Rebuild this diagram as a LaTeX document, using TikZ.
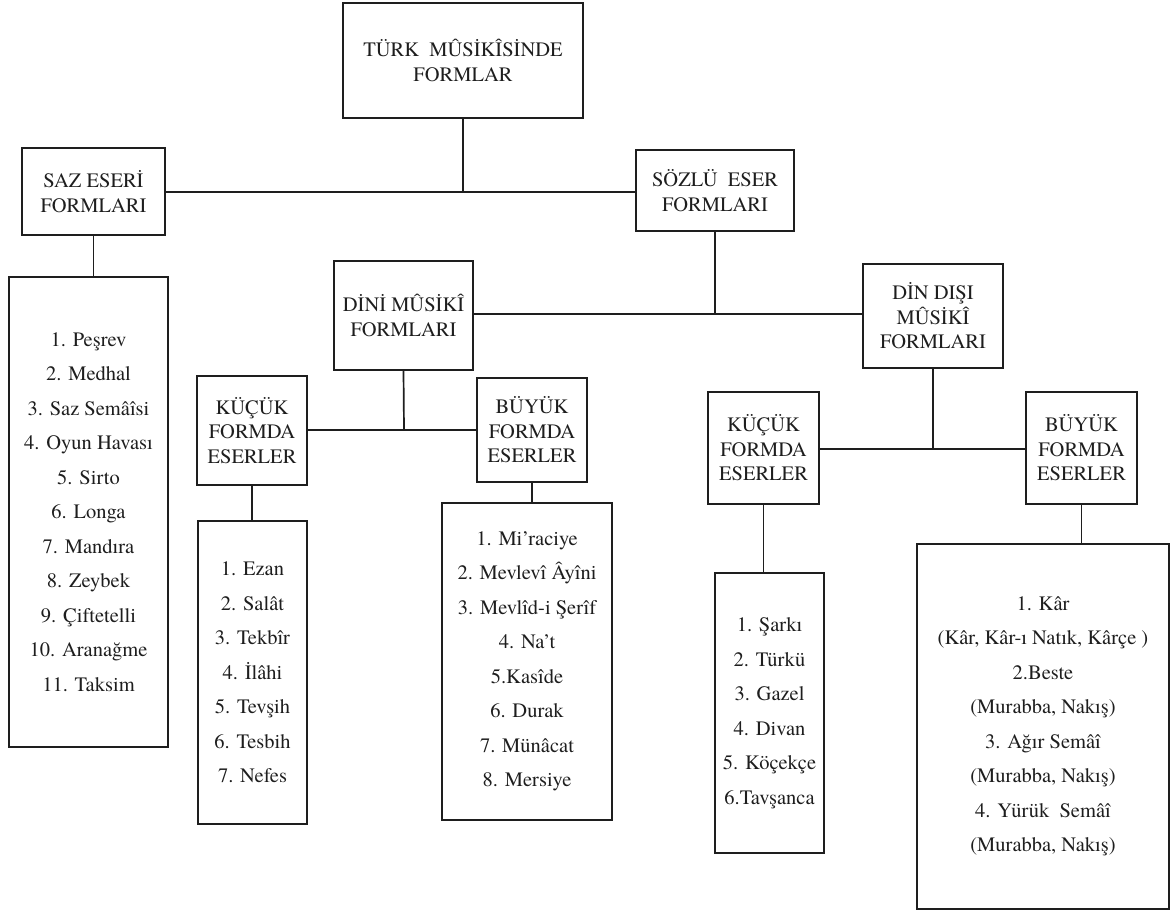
\documentclass[tikz,border=0pt]{standalone}
\usepackage{fontspec}
\setmainfont{texgyretermes}[Extension=.otf, UprightFont=*-regular, BoldFont=*-bold, ItalicFont=*-italic, BoldItalicFont=*-bolditalic]
\definecolor{ink}{HTML}{1E1E1E}
\tikzset{
  box/.style={draw=ink, line width=1.7pt, rectangle, inner sep=0pt, align=center, text=ink},
  hdr/.style={box, font=\fontsize{20.5}{25.5}\selectfont},
  lst/.style={box, font=\fontsize{20.5}{34.5}\selectfont},
  conn/.style={draw=ink, line width=1.7pt}
}
\begin{document}
\begin{tikzpicture}[x=1pt,y=-1pt]
\useasboundingbox (0,0) rectangle (1175,912);
\fill[white] (0,0) rectangle (1175,912);
% headers
\node[hdr, minimum width=240, minimum height=115] (top) at (463,60.5) {TÜRK\ \ MÛSİKÎSİNDE\\FORMLAR};
\node[hdr, minimum width=143, minimum height=87] (saz) at (93.5,191.5) {SAZ ESERİ\\FORMLARI};
\node[hdr, minimum width=158, minimum height=81] (sozlu) at (715,190.5) {SÖZLÜ\ \ ESER\\FORMLARI};
\node[hdr, minimum width=139, minimum height=109] (dini) at (403.5,315.5) {DİNİ MÛSİKÎ\\FORMLARI};
\node[hdr, font=\fontsize{20.5}{24.5}\selectfont, minimum width=140, minimum height=104] (disi) at (933,316) {DİN DIŞI\\MÛSİKÎ\\FORMLARI};
\node[hdr, font=\fontsize{20.5}{24.5}\selectfont, minimum width=110, minimum height=109] (kucuka) at (252,430.5) {KÜÇÜK\\FORMDA\\ESERLER};
\node[hdr, font=\fontsize{20.5}{24.5}\selectfont, minimum width=110, minimum height=104] (buyuka) at (532,430) {BÜYÜK\\FORMDA\\ESERLER};
\node[hdr, font=\fontsize{20.5}{24.5}\selectfont, minimum width=111, minimum height=112] (kucukb) at (763.5,448) {KÜÇÜK\\FORMDA\\ESERLER};
\node[hdr, font=\fontsize{20.5}{24.5}\selectfont, minimum width=111, minimum height=112] (buyukb) at (1081.5,448) {BÜYÜK\\FORMDA\\ESERLER};
% lists
\node[lst, minimum width=159, minimum height=470] (sazlist) at (88.5,512) {1. Peşrev\\2. Medhal\\3. Saz Semâîsi\\4. Oyun Havası\\5. Sirto\\6. Longa\\7. Mandıra\\8. Zeybek\\9. Çiftetelli\\10. Aranağme\\11. Taksim};
\node[lst, minimum width=109, minimum height=303] (lista) at (252.5,672.5) {1. Ezan\\2. Salât\\3. Tekbîr\\4. İlâhi\\5. Tevşih\\6. Tesbih\\7. Nefes};
\node[lst, minimum width=170, minimum height=317] (listb) at (527,661.5) {1. Mi'raciye\\2. Mevlevî Âyîni\\3. Mevlîd-i Şerîf\\4. Na't\\5.Kasîde\\6. Durak\\7. Münâcat\\8. Mersiye};
\node[lst, minimum width=109, minimum height=280] (listc) at (769.5,713) {1. Şarkı\\2. Türkü\\3. Gazel\\4. Divan\\5. Köçekçe\\6.Tavşanca};
\node[lst, minimum width=252, minimum height=365] (listd) at (1043,726.5) {1. Kâr\\(Kâr, Kâr-ı Natık, Kârçe )\\2.Beste\\(Murabba, Nakış)\\3. Ağır Semâî\\(Murabba, Nakış)\\4. Yürük\ \ Semâî\\(Murabba, Nakış)};
% junctions
\coordinate (j0) at (463,192);
\coordinate (j1) at (715,314);
\coordinate (j2) at (404,430);
\coordinate (j3) at (933,449);
% connectors
\draw[conn] (top.south) -- (j0);
\draw[conn] (saz.east |- j0) -- (sozlu.west |- j0);
\draw[conn] (saz.south) -- (saz.south |- sazlist.north);
\draw[conn] (sozlu.south) -- (j1);
\draw[conn] (dini.east |- j1) -- (disi.west |- j1);
\draw[conn] (dini.south) -- (j2);
\draw[conn] (kucuka.east |- j2) -- (buyuka.west |- j2);
\draw[conn] (kucuka.south) -- (kucuka.south |- lista.north);
\draw[conn] (buyuka.south) -- (buyuka.south |- listb.north);
\draw[conn] (disi.south) -- (j3);
\draw[conn] (kucukb.east |- j3) -- (buyukb.west |- j3);
\draw[conn] (kucukb.south) -- (kucukb.south |- listc.north);
\draw[conn] (buyukb.south) -- (buyukb.south |- listd.north);
\end{tikzpicture}
\end{document}
